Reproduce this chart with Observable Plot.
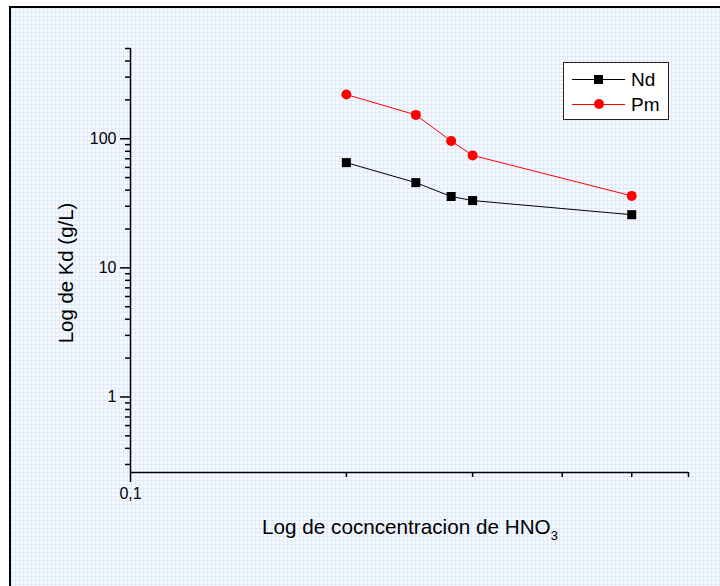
<!DOCTYPE html>
<html><head><meta charset="utf-8">
<script src="https://cdn.jsdelivr.net/npm/d3@7"></script>
<script src="https://cdn.jsdelivr.net/npm/@observablehq/plot@0.6"></script>
<style>
html,body{margin:0;padding:0;background:#fff;}
body{width:720px;height:586px;position:relative;overflow:hidden;font-family:"Liberation Sans",Arial,sans-serif;color:#000;}
#bg{position:absolute;left:9px;top:6px;width:730px;height:600px;border-left:2px solid #000;border-top:2px solid #000;background-color:#f6f9fe;background-image:linear-gradient(#e0ebfa 1px,transparent 1px),linear-gradient(90deg,#e0ebfa 1px,transparent 1px);background-size:4px 4px;}
#chart{position:absolute;left:0;top:0;}
#xtitle{position:absolute;left:0;width:820px;top:517px;text-align:center;font-size:20.7px;line-height:20px;white-space:nowrap;}
#xtitle sub{font-size:13px;vertical-align:-6px;line-height:0;}
#ytitle{position:absolute;left:66px;top:273px;transform:translate(-50%,-50%) rotate(-90deg);font-size:20.4px;line-height:20px;white-space:nowrap;}
#legend{position:absolute;left:563px;top:62px;width:104px;height:56px;border:1.5px solid #222;background:#fff;}
.entry{position:absolute;left:8px;height:20px;width:95px;}
.entry .ln{position:absolute;left:0;top:9px;width:53px;height:0;border-top:1px solid;}
.entry .mk{position:absolute;left:22px;top:5px;width:9px;height:9px;}
.entry .tx{position:absolute;left:59px;top:0;font-size:19px;line-height:20px;}
</style></head>
<body>
<div id="bg"></div>
<div id="chart"></div>
<div id="xtitle">Log de cocncentracion de HNO<sub>3</sub></div>
<div id="ytitle">Log de Kd (g/L)</div>
<div id="legend"></div>
<script>
// Data
const concentration = [0.2, 0.25, 0.28, 0.3, 0.5];
const kdNd = [65.3, 45.7, 35.7, 33.2, 25.8];
const kdPm = [220, 153, 96, 74.3, 36.1];
const seriesNames = ["Nd", "Pm"];
const seriesColors = ["#000000", "#ff0000"];

// Axis ticks
const xMajorTicks = [0.1];
const xMajorLabels = ["0,1"];
const xMinorTicks = [0.2, 0.3, 0.4, 0.5, 0.6];
const yMajorTicks = [1, 10, 100];
const yMajorLabels = ["1", "10", "100"];
const yMinorTicks = [0.3,0.4,0.5,0.6,0.7,0.8,0.9,2,3,4,5,6,7,8,9,20,30,40,50,60,70,80,90,200,300,400,500];
const xDomain = [0.1, 0.6];
const yDomain = [0.26, 500];

const nd = concentration.map((c, i) => ({x: c, y: kdNd[i]}));
const pm = concentration.map((c, i) => ({x: c, y: kdPm[i]}));

const chart = Plot.plot({
  width: 720, height: 586,
  marginLeft: 130, marginRight: 32, marginTop: 48, marginBottom: 114,
  style: {background: "transparent", fontFamily: "'Liberation Sans', Arial, sans-serif", color: "#000"},
  x: {type: "log", domain: xDomain},
  y: {type: "log", domain: yDomain},
  marks: [
    Plot.ruleX([xDomain[0]], {stroke: "#000", strokeWidth: 1.5}),
    Plot.ruleY([yDomain[0]], {stroke: "#000", strokeWidth: 1.5}),
    Plot.axisX(xMinorTicks, {tickSize: 5, tickFormat: () => "", strokeWidth: 1.5, label: null}),
    Plot.axisX(xMajorTicks, {tickSize: 10, tickPadding: 5, strokeWidth: 1.5, label: null,
      tickFormat: d => xMajorLabels[xMajorTicks.indexOf(d)]}),
    Plot.axisY(yMinorTicks, {tickSize: 5, tickFormat: () => "", strokeWidth: 1.5, label: null}),
    Plot.axisY(yMajorTicks, {tickSize: 10, tickPadding: 4, strokeWidth: 1.5, label: null,
      tickFormat: d => yMajorLabels[yMajorTicks.indexOf(d)]}),
    Plot.line(nd, {x: "x", y: "y", stroke: seriesColors[0], strokeWidth: 1}),
    Plot.line(pm, {x: "x", y: "y", stroke: seriesColors[1], strokeWidth: 1}),
    Plot.dot(nd, {x: "x", y: "y", symbol: "square", r: 5.1, fill: seriesColors[0]}),
    Plot.dot(pm, {x: "x", y: "y", symbol: "circle", r: 5, fill: seriesColors[1]})
  ]
});
// Tick label size
chart.querySelectorAll("g").forEach(g => { if (g.hasAttribute("font-size")) g.setAttribute("font-size", "16"); });
chart.querySelectorAll("text").forEach(t => { t.setAttribute("font-size", "16"); t.style.fontSize = "16px"; });
document.getElementById("chart").append(chart);

// Legend
const legend = document.getElementById("legend");
seriesNames.forEach((name, i) => {
  const e = document.createElement("div");
  e.className = "entry";
  e.style.top = (7 + i * 25) + "px";
  const ln = document.createElement("div"); ln.className = "ln"; ln.style.borderColor = seriesColors[i];
  const mk = document.createElement("div"); mk.className = "mk"; mk.style.background = seriesColors[i];
  if (i === 1) { mk.style.borderRadius = "50%"; mk.style.width = "10px"; mk.style.height = "10px"; mk.style.top = "4px"; }
  const tx = document.createElement("div"); tx.className = "tx"; tx.textContent = name;
  e.append(ln, mk, tx);
  legend.append(e);
});
</script>
</body></html>
